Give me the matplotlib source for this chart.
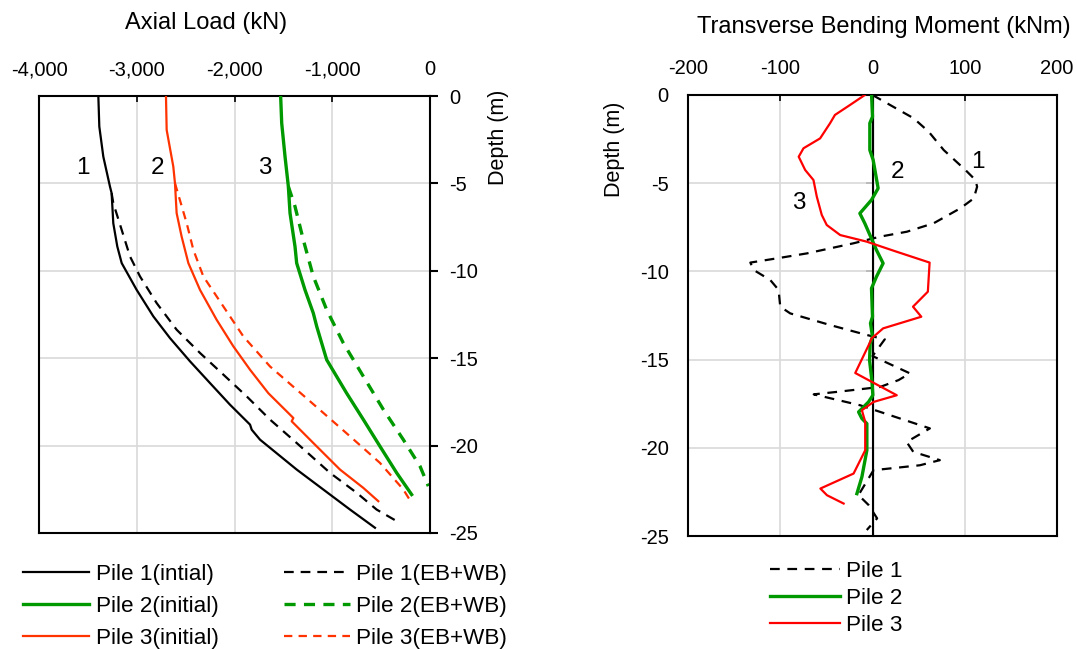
import matplotlib
matplotlib.use("Agg")
import matplotlib.pyplot as plt
from matplotlib.ticker import FuncFormatter

plt.rcParams['font.family'] = ['Liberation Sans', 'DejaVu Sans']
plt.rcParams['lines.scale_dashes'] = False
plt.rcParams['axes.unicode_minus'] = False

# ---------------- Data: axial load (kN) vs depth (m) ----------------
p1_init_load = [-3393, -3383, -3342, -3274, -3257, -3240, -3199, -3154, -3001, -2830, -2660,
                -2455, -2251, -2046, -1841, -1824, -1739, -1364, -1023, -818, -563]
p1_init_depth = [0, -1.75, -3.47, -5.18, -5.56, -7.28, -8.61, -9.56, -11.09, -12.61, -13.85,
                 -15.18, -16.42, -17.66, -18.8, -19.09, -19.66, -21.37, -22.8, -23.66, -24.7]
p1_eb_load = [-3257, -3240, -3154, -3069, -2967, -2796, -2592, -2353, -2114, -1876, -1637,
              -1364, -1023, -750, -546, -341]
p1_eb_depth = [-5.56, -6.13, -7.66, -9.18, -10.32, -11.85, -13.37, -14.7, -15.94, -17.18,
               -18.51, -19.85, -21.56, -22.7, -23.66, -24.32]

p2_init_load = [-1528, -1517, -1483, -1449, -1432, -1381, -1364, -1279, -1194, -1159, -1057,
                -853, -682, -512, -341, -188]
p2_init_depth = [0, -1.56, -3.47, -5.18, -6.7, -8.61, -9.56, -11.09, -12.42, -13.18, -15.09,
                 -17.0, -18.51, -20.04, -21.56, -22.8]
p2_eb_load = [-1449, -1381, -1296, -1194, -1057, -887, -682, -477, -273, -102, -17]
p2_eb_depth = [-5.18, -6.32, -8.23, -10.32, -12.23, -14.13, -16.04, -17.94, -19.66, -21.18, -22.32]

p3_init_load = [-2701, -2694, -2626, -2609, -2592, -2541, -2472, -2353, -2183, -2012, -1841,
                -1654, -1398, -1415, -1194, -921, -682, -529]
p3_init_depth = [0, -1.94, -4.04, -4.99, -6.7, -8.04, -9.56, -11.09, -12.8, -14.32, -15.66,
                 -17.0, -18.42, -18.61, -19.85, -21.37, -22.42, -23.18]
p3_eb_load = [-2609, -2489, -2421, -2319, -2114, -1910, -1637, -1364, -1091, -818, -512, -273, -188]
p3_eb_depth = [-4.99, -7.28, -8.8, -10.32, -12.04, -13.75, -15.47, -16.8, -18.13, -19.47,
               -20.99, -22.51, -23.28]

# ---------------- Data: transverse bending moment (kNm) vs depth (m) ----------------
m1_val = [0, 19.2, 44.6, 60.9, 77.2, 100.7, 111.6, 113.4, 109.8, 95.3, 66.3, 37.3, 8.3, -20.9,
          -71.2, -103.6, -132.4, -128.8, -110.8, -101.8, -100, -89.2, -46, -6.5, 13.3, 0,
          40.6, 28.3, 8.3, -38.5, -63.7, -13.3, 62.2, 37, 44.2, 73, 51.4, 1.1, -15.2, -4.3, 5, -6.2]
m1_depth = [0, -0.57, -1.32, -2.08, -3.12, -4.25, -4.82, -5.2, -5.86, -6.42, -7.27, -7.75, -8.03,
            -8.41, -8.98, -9.26, -9.5, -9.92, -10.49, -11.05, -12.0, -12.38, -13.04, -13.6, -13.85,
            -14.8, -15.78, -16.16, -16.55, -16.83, -16.97, -17.59, -18.9, -19.67, -20.23, -20.7,
            -20.99, -21.27, -22.68, -23.24, -24.0, -24.66]
m2_val = [-1, 0, -2.9, -2.9, 0.7, 6.1, -1.1, -13.7, -8.3, 4.3, 11.5, 4.3, -1.1, 0, -2.2, 0, -2.5,
          -3.2, -0.7, 0.4, -4.3, -15.1, -11.5, -6.1, -6.1, -11.5, -16.9]
m2_depth = [0, -1.23, -1.6, -3.12, -3.68, -5.29, -5.95, -6.71, -7.28, -8.79, -9.54, -10.3, -10.96,
            -12.57, -12.94, -13.7, -14.09, -15.04, -16.17, -17.02, -17.4, -17.97, -18.34, -18.63,
            -20.14, -21.65, -22.6]
m3_val = [-8.3, -24.5, -40.7, -46, -56.8, -74.8, -80, -73, -64, -60.4, -55, -49.6, -35, -6.5,
          25.9, 61.9, 60, 43.9, 52.9, 11.5, -1, -2.5, -18.7, 26.3, 1.1, -11.5, -7.9, -7.9, -20.5,
          -56.5, -49.3, -31.3]
m3_depth = [0, -0.57, -1.13, -1.6, -2.46, -3.02, -3.5, -4.25, -4.82, -5.76, -6.8, -7.37, -7.94,
            -8.31, -8.88, -9.5, -11.15, -12.0, -12.57, -13.23, -13.8, -14.0, -15.76, -17.02,
            -17.4, -17.87, -18.53, -20.14, -21.46, -22.31, -22.69, -23.16]

left_xticks = [-4000, -3000, -2000, -1000, 0]
right_xticks = [-200, -100, 0, 100, 200]
depth_ticks = [0, -5, -10, -15, -20, -25]

# ---------------- Styles ----------------
BLACK = '#000000'
GREEN = '#009900'
ORANGE = '#FF3300'
RED = '#FF0000'
GRID = '#D9D9D9'
TICK_FS = 14.5
TITLE_FS = 17.0
LEG_FS = 16.2
NUM_FS = 17.5

W, H = 1077, 649
fig = plt.figure(figsize=(W / 100, H / 100), dpi=100)

def fig_rect(x0, y0, x1, y1):
    return [x0 / W, 1 - y1 / H, (x1 - x0) / W, (y1 - y0) / H]

# ================= Left panel =================
ax1 = fig.add_axes(fig_rect(39, 96, 430, 533))
l_p1i, = ax1.plot(p1_init_load, p1_init_depth, color=BLACK, lw=1.6, zorder=3)
l_p2i, = ax1.plot(p2_init_load, p2_init_depth, color=GREEN, lw=2.4, zorder=3)
l_p3i, = ax1.plot(p3_init_load, p3_init_depth, color=ORANGE, lw=1.6, zorder=3)
l_p1e, = ax1.plot(p1_eb_load, p1_eb_depth, color=BLACK, lw=1.6, dashes=(7, 5), zorder=2)
l_p2e, = ax1.plot(p2_eb_load, p2_eb_depth, color=GREEN, lw=2.4, dashes=(8, 6), zorder=2)
l_p3e, = ax1.plot(p3_eb_load, p3_eb_depth, color=ORANGE, lw=1.6, dashes=(6, 4.5), zorder=2)

ax1.set_xlim(-4000, 0)
ax1.set_ylim(-25, 0)
ax1.set_xticks(left_xticks)
ax1.set_yticks(depth_ticks)
ax1.xaxis.set_major_formatter(FuncFormatter(lambda v, p: f"{int(v):,}"))
ax1.xaxis.tick_top()
ax1.yaxis.tick_right()
ax1.tick_params(axis='x', top=True, bottom=False, direction='in', length=4, width=1.2,
                labelsize=TICK_FS, pad=12, color=BLACK)
ax1.tick_params(axis='y', right=True, left=False, direction='out', length=6, width=1.5,
                labelsize=TICK_FS, pad=8)
ax1.grid(True, color=GRID, lw=1.2)
ax1.set_axisbelow(True)
for s in ax1.spines.values():
    s.set_linewidth(1.5)
ax1.yaxis.set_label_position('right')
ax1.set_ylabel('Depth (m)', fontsize=15.5, loc='top')
ax1.yaxis.set_label_coords(1.148, 1.014)
ax1.xaxis.set_label_position('top')
ax1.set_xlabel('Axial Load (kN)', fontsize=TITLE_FS)
ax1.xaxis.label.set_va('center')
ax1.xaxis.set_label_coords((206 - 39) / 391, (533 - 23) / 437)

for txt, px in [('1', 83), ('2', 157), ('3', 265)]:
    ax1.text((px - 39) / 391, (533 - 168) / 437, txt, transform=ax1.transAxes,
             fontsize=NUM_FS, ha='center', va='center')

leg1 = fig.legend([l_p1i, l_p2i, l_p3i, l_p1e, l_p2e, l_p3e],
                  ['Pile 1(intial)', 'Pile 2(initial)', 'Pile 3(initial)',
                   'Pile 1(EB+WB)', 'Pile 2(EB+WB)', 'Pile 3(EB+WB)'],
                  ncol=2, loc='upper left', bbox_to_anchor=(23 / W, 1 - 564 / H),
                  frameon=False, fontsize=LEG_FS, handlelength=2.93, handletextpad=0.3,
                  columnspacing=2.9, labelspacing=0.48, borderpad=0, borderaxespad=0)

# ================= Right panel =================
ax2 = fig.add_axes(fig_rect(688, 95, 1057, 536))
r1, = ax2.plot(m1_val, m1_depth, color=BLACK, lw=1.6, dashes=(7, 5.5), zorder=3)
r2, = ax2.plot(m2_val, m2_depth, color=GREEN, lw=2.4, zorder=3)
r3, = ax2.plot(m3_val, m3_depth, color=RED, lw=1.6, zorder=3)
ax2.set_xlim(-200, 200)
ax2.set_ylim(-25, 0)
ax2.set_xticks(right_xticks)
ax2.set_yticks(depth_ticks)
ax2.xaxis.tick_top()
ax2.tick_params(axis='x', top=True, bottom=False, direction='in', length=4, width=1.2,
                labelsize=TICK_FS, pad=12)
ax2.tick_params(axis='y', left=True, length=0, labelsize=TICK_FS, pad=14)
ax2.grid(True, color=GRID, lw=1.2)
ax2.set_axisbelow(True)
for s in ax2.spines.values():
    s.set_linewidth(1.5)
ax2.axvline(0, color=BLACK, lw=1.5, zorder=2)
sec = ax2.secondary_yaxis(0.5)
sec.set_yticks(depth_ticks)
sec.set_yticklabels([])
sec.tick_params(direction='in', length=5, width=1.2, labelleft=False, labelright=False)
sec.spines['left'].set_visible(False)
ax2.set_ylabel('Depth (m)', fontsize=15.5, loc='top')
ax2.yaxis.set_label_coords((625 - 688) / 369, (536 - 102) / 441)
ax2.xaxis.set_label_position('top')
ax2.set_xlabel('Transverse Bending Moment (kNm)', fontsize=TITLE_FS)
ax2.xaxis.label.set_va('center')
ax2.xaxis.set_label_coords((884 - 688) / 369, (536 - 27) / 441)

for txt, px, py in [('1', 978, 162), ('2', 897, 172), ('3', 799, 203)]:
    ax2.text((px - 688) / 369, (536 - py) / 441, txt, transform=ax2.transAxes,
             fontsize=NUM_FS, ha='center', va='center')

leg2 = fig.legend([r1, r2, r3], ['Pile 1', 'Pile 2', 'Pile 3'],
                  loc='upper left', bbox_to_anchor=(770 / W, 1 - 561 / H),
                  frameon=False, fontsize=LEG_FS, handlelength=3.1, handletextpad=0.3,
                  labelspacing=0.26, borderpad=0, borderaxespad=0)

fig.savefig('out.png', dpi=100)
